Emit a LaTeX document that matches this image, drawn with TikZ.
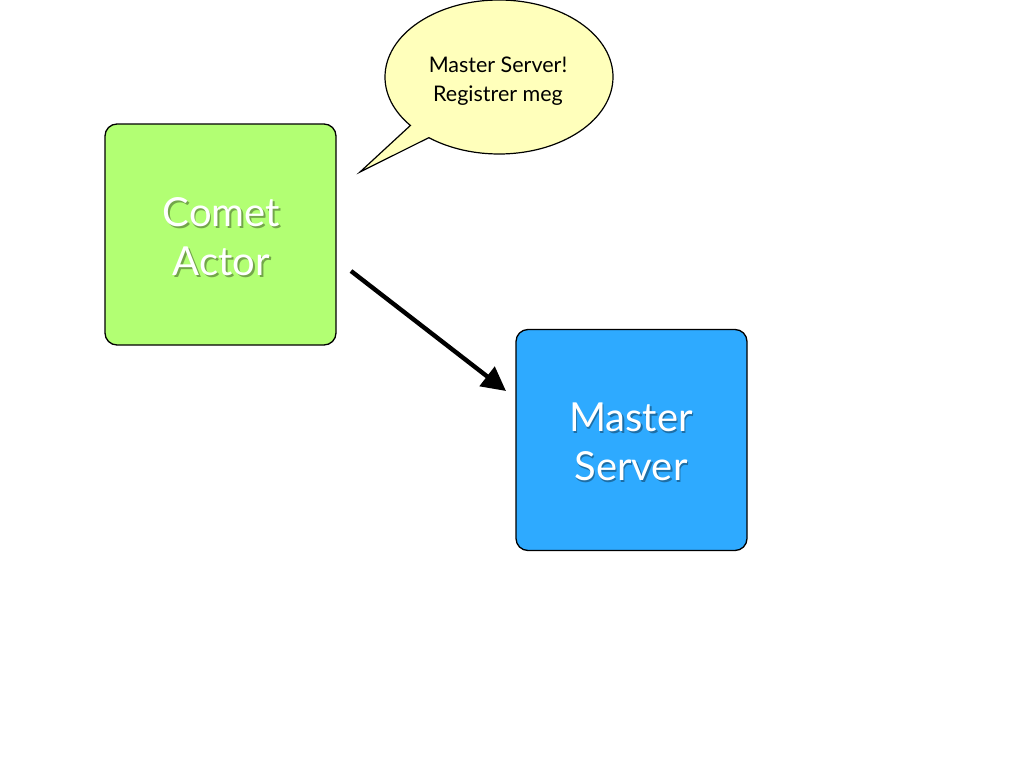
\documentclass[tikz,border=0pt]{standalone}
\usepackage{fontspec}
\setmainfont{Lato}
\usetikzlibrary{arrows.meta}
\definecolor{cgreen}{RGB}{178,255,115}
\definecolor{cblue}{RGB}{46,170,255}
\definecolor{cbubble}{RGB}{255,255,187}
\tikzset{
  boxstyle/.style={draw=black, line width=1.3pt, rounded corners=12pt, minimum width=231pt, minimum height=221pt, inner sep=0pt},
  bigtext/.style={text=white, font=\fontsize{40}{49}\selectfont, align=center},
  shadowtext/.style={text=black, opacity=0.35, font=\fontsize{40}{49}\selectfont, align=center},
}
\begin{document}
\begin{tikzpicture}[x=1pt,y=-1pt]
\useasboundingbox (0,0) rectangle (1024,768);
% boxes
\node[boxstyle, fill=cgreen] (comet) at (220.5,234.5) {};
\node[boxstyle, fill=cblue] (master) at (631.5,440) {};
\node[shadowtext] (cometsh) at (223,238.5) {Comet\\Actor};
\node[bigtext] (comettxt) at (221.5,237) {Comet\\Actor};
\node[shadowtext] (mastersh) at (632.5,443.5) {Master\\Server};
\node[bigtext] (mastertxt) at (631,442) {Master\\Server};
% speech bubble
\begin{scope}[shift={(499,77)}]
\draw[fill=cbubble, line width=1.2pt, line join=miter]
  (141:114 and 77) arc[start angle=141, end angle=488, x radius=114, y radius=77]
  -- (-139,95) -- cycle;
\end{scope}
\node[align=center, font=\fontsize{21.5}{29}\selectfont, text=black] (bubbletxt) at (498,81) {Master Server!\\Registrer meg};
% arrow
\coordinate (a1) at (351,271);
\coordinate (a2) at (506,391);
\draw[line width=4.4pt, -{Triangle[length=24pt,width=24pt]}] (a1) -- (a2);
\end{tikzpicture}
\end{document}
